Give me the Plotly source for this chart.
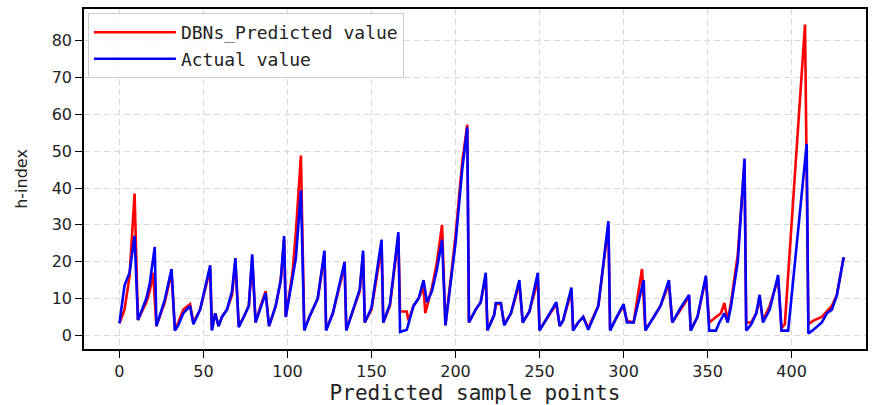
import plotly.graph_objects as go

# Vertices (sample index, h-index)
actual_x = [0, 3, 6, 9, 11, 16, 18, 21, 22, 27, 31, 33, 35, 38, 42, 44, 48, 54, 55, 57, 59, 61, 64, 67, 69, 71,
            74, 77, 79, 81, 84, 87, 89, 93, 96, 98, 99, 102, 105, 108, 110, 113, 118, 122, 123, 127, 134, 135,
            140, 143, 145, 146, 150, 156, 157, 161, 166, 167, 171, 175, 178, 181, 183, 186, 189, 192, 194, 200,
            204, 207, 208, 212, 215, 218, 219, 223, 224, 227, 229, 233, 238, 240, 244, 249, 250, 255, 260, 262,
            264, 269, 270, 273, 276, 279, 282, 285, 291, 292, 296, 300, 302, 306, 312, 313, 318, 322, 327, 329,
            334, 339, 340, 344, 349, 351, 355, 357, 360, 362, 364, 368, 372, 373, 376, 379, 381, 383, 387, 392,
            394, 398, 409, 410, 413, 418, 421, 424, 427, 431]
actual_y = [3.3, 13.5, 17, 27, 4.2, 10, 14, 24, 2.5, 9.7, 18, 1.3, 2.7, 6, 8, 3, 7, 19, 1.3, 6, 2.5, 5, 7, 12, 21, 2.2,
            5, 8, 22, 3.5, 7.5, 11.5, 2.5, 8, 15, 27, 5, 13, 21, 39.3, 1.3, 5, 10, 23, 1.3, 6, 20, 1.3,
            8.5, 12.5, 23, 3.5, 7.5, 26, 3.5, 8.5, 28, 0.9, 1.5, 8, 10, 15, 9, 12, 18, 26, 2.7, 25,
            45, 56.5, 3.5, 7, 9, 17, 1.3, 5.5, 8.8, 8.8, 2.7, 6, 15, 3.5, 6.5, 17, 1.3, 5, 9, 2.5,
            4, 13, 1.3, 3.5, 5, 1.5, 5, 8, 31, 1.3, 5, 8.5, 3.5, 3.5, 15, 1.3, 5, 8, 15, 3.5,
            7.5, 11, 1.3, 5, 16.2, 1.3, 1.3, 3.5, 6, 3.5, 8, 20, 48, 1.3, 3, 6, 11, 3.5, 7, 16.4,
            1.3, 1.3, 52, 0.5, 1.5, 3.5, 6, 7, 11, 21.2]

pred_x = [0, 3, 6, 9, 11, 16, 18, 20, 22, 27, 31, 33, 35, 38, 42, 44, 48, 54, 55, 57, 59, 61, 64, 67, 69, 71,
          74, 77, 79, 81, 84, 87, 89, 93, 96, 98, 99, 103, 105, 108, 110, 113, 118, 122, 123, 127, 134, 135,
          140, 143, 145, 146, 150, 156, 157, 161, 166, 167, 171, 172, 175, 178, 181, 182, 186, 189, 192, 194,
          200, 204, 207, 208, 212, 215, 218, 219, 223, 224, 227, 229, 233, 238, 240, 244, 249, 250, 255, 260,
          262, 264, 269, 270, 273, 276, 279, 282, 285, 291, 292, 296, 300, 302, 306, 311, 313, 318, 322, 327,
          329, 334, 339, 340, 344, 349, 351, 355, 358, 360, 362, 364, 368, 372, 373, 376, 379, 381, 383, 387,
          392, 394, 396, 408, 410, 413, 418, 421, 424, 427, 431]
pred_y = [3.3, 7, 16, 38.5, 4.2, 9, 12, 17, 2.5, 9, 17, 1.5, 3.5, 7, 8.5, 3.5, 7, 18, 1.5, 6, 2.5, 5, 7, 11, 20, 2.5,
          5, 8, 21, 3.5, 8, 12, 2.5, 8, 15, 26, 5, 17, 28, 48.8, 1.5, 5, 10, 22, 1.5, 6, 19, 1.5,
          8, 12, 22, 3.5, 7, 24, 3.5, 8, 27, 6.5, 6.5, 4, 8, 10, 13, 6, 13, 20, 30, 2.7,
          27, 47, 57.2, 3.5, 7, 9, 16, 1.5, 5.5, 8.5, 8.5, 3, 6, 14, 3.5, 6.5, 15, 1.5, 5, 8.5,
          2.5, 4, 12, 1.5, 3.5, 5, 2, 5, 8, 30, 1.5, 5, 8, 4, 3.5, 18, 1.5, 5, 8, 14, 3.5,
          7, 10.5, 1.5, 5, 15.5, 3.5, 5, 6, 8.8, 4, 9, 22, 47, 3.5, 3.5, 6, 10, 4, 8, 15.5,
          2, 3, 84.4, 3, 4, 5, 6.5, 8, 11, 21.2]

x_ticks = [0, 50, 100, 150, 200, 250, 300, 350, 400]
y_ticks = [0, 10, 20, 30, 40, 50, 60, 70, 80]

mono = "DejaVu Sans Mono"

fig = go.Figure()
fig.add_trace(go.Scatter(x=pred_x, y=pred_y, mode="lines", name="DBNs_Predicted value",
                         line=dict(color="#ff0000", width=2.6)))
fig.add_trace(go.Scatter(x=actual_x, y=actual_y, mode="lines", name="Actual value",
                         line=dict(color="#0000ff", width=2.6)))

axis_common = dict(showline=True, linecolor="black", linewidth=1.5, mirror=True,
                   ticks="outside", ticklen=7, tickcolor="black", tickwidth=1.2,
                   showgrid=True, gridcolor="#d9d9d9", griddash="6px,4px", gridwidth=1,
                   zeroline=False, tickfont=dict(family="DejaVu Sans", size=16, color="#222"))

fig.update_xaxes(range=[-21.1, 444.3], tickvals=x_ticks,
                 title=dict(text="Predicted sample points", font=dict(family=mono, size=21, color="#222"),
                            standoff=2),
                 **axis_common)
fig.update_yaxes(range=[-3.7, 88.6], tickvals=y_ticks,
                 title=dict(text="h-index", font=dict(family="DejaVu Sans", size=16, color="#222"),
                            standoff=20),
                 **axis_common)

fig.update_layout(
    width=877, height=405,
    margin=dict(l=84, r=11, t=7, b=50),
    plot_bgcolor="white", paper_bgcolor="white",
    showlegend=True,
    legend=dict(x=0.005, y=0.988, xanchor="left", yanchor="top",
                bgcolor="rgba(255,255,255,0.85)", bordercolor="#cccccc", borderwidth=1,
                font=dict(family=mono, size=18, color="#222"), itemwidth=82,
                tracegroupgap=0),
)

fig.write_html("out.html")
